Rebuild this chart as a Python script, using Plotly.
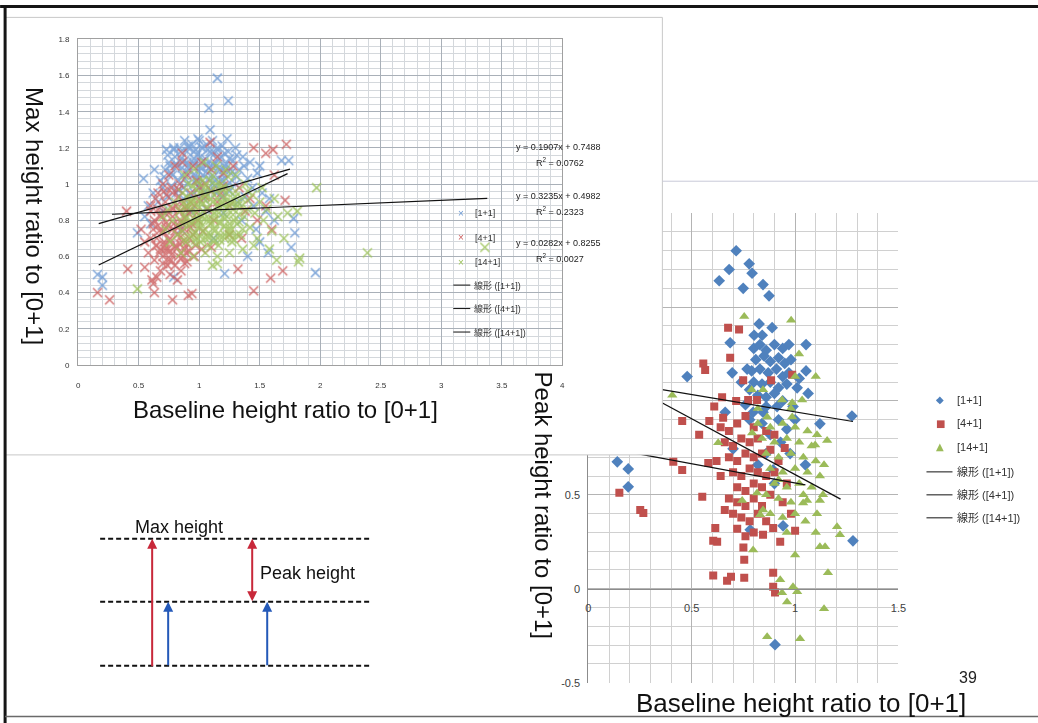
import plotly.graph_objects as go

W, H = 1038, 723

# ---------------- Left chart data (Max height ratio vs Baseline height ratio) ----------------
l1_x = [1.15, 1.24, 1.08, 1.09, 0.54, 1.68, 1.74, 1.0, 1.23, 0.49, 1.78, 1.79, 1.76, 0.16, 0.20, 0.20, 0.79, 1.21, 1.96, 1.57,
        0.68, 0.72, 0.75, 0.78, 0.8, 0.82, 0.84, 0.86, 0.88, 0.9, 0.92, 0.94, 0.95, 0.97, 0.98, 1.0, 1.02, 1.03, 1.05, 1.06,
        1.08, 1.1, 1.12, 1.13, 1.15, 1.17, 1.18, 1.2, 1.22, 1.24, 1.26, 1.28, 1.3, 1.33, 1.36, 1.4, 1.44, 1.48, 1.52, 1.58,
        0.62, 0.66, 0.7, 0.74, 0.77, 0.83, 0.87, 0.9, 0.96, 1.0, 1.04, 1.09, 1.14, 1.19, 1.25, 1.32, 1.38, 1.45, 1.55, 1.62,
        0.58, 0.63, 0.88, 0.99, 1.11, 1.3, 1.42, 1.5, 0.55, 0.6, 0.7, 0.93, 1.06, 1.2, 1.35, 1.47, 1.5, 1.4, 1.12, 0.85,
        0.74, 0.79, 0.85, 0.91, 0.96, 1.01, 1.07, 1.13, 1.19, 1.25, 1.31, 1.37, 0.71, 0.77, 0.83, 0.89, 0.95, 1.01, 1.07,
        1.13, 1.19, 1.25, 1.31, 0.81, 0.87, 0.93, 0.99, 1.05, 1.11, 1.17, 1.23, 0.9, 1.0, 1.1, 1.2, 0.96, 1.06, 1.16,
        0.76, 0.81, 0.86, 0.91, 0.96, 1.01, 1.06, 1.11, 1.16, 1.21, 1.26, 0.73, 0.79, 0.85, 0.91, 0.97, 1.03, 1.09, 1.15,
        1.21, 0.88, 0.98, 1.08, 1.18]
l1_y = [1.585, 1.46, 1.42, 1.30, 1.03, 1.13, 1.13, 1.24, 1.25, 0.73, 0.81, 0.73, 0.65, 0.50, 0.485, 0.44, 0.485, 0.505, 0.51, 0.62,
        1.02, 1.08, 1.12, 1.05, 1.15, 1.1, 1.2, 1.05, 1.13, 1.18, 1.08, 1.22, 1.12, 1.02, 1.16, 1.1, 1.2, 1.05, 1.14, 1.22,
        1.09, 1.17, 1.04, 1.12, 1.2, 1.08, 1.15, 1.02, 1.11, 1.18, 1.06, 1.13, 1.0, 1.08, 1.15, 1.03, 0.98, 1.06, 0.95, 0.92,
        0.95, 0.9, 0.98, 0.93, 0.99, 0.97, 0.92, 1.0, 0.95, 0.98, 0.92, 0.97, 0.95, 0.93, 0.96, 0.9, 0.93, 0.88, 0.85, 0.8,
        0.88, 1.08, 1.24, 1.25, 1.24, 1.2, 1.12, 1.1, 0.82, 0.78, 0.85, 0.85, 0.86, 0.84, 0.8, 0.75, 0.68, 0.6, 0.7, 0.75,
        1.16, 1.19, 1.14, 1.21, 1.18, 1.15, 1.19, 1.17, 1.21, 1.14, 1.16, 1.1, 1.04, 1.06, 1.02, 1.07, 1.05, 1.03, 1.06,
        1.02, 1.05, 1.01, 1.04, 0.95, 0.98, 0.94, 0.99, 0.96, 1.0, 0.97, 0.99, 1.12, 1.07, 1.1, 1.08, 1.14, 1.11, 1.13,
        1.1, 1.11, 1.09, 1.1, 1.11, 1.09, 1.1, 1.11, 1.09, 1.1, 1.08, 1.19, 1.2, 1.18, 1.2, 1.19, 1.2, 1.18, 1.19,
        1.17, 1.03, 1.04, 1.03, 1.02]

l2_x = [1.72, 0.86, 1.55, 1.61, 0.40, 1.71, 0.16, 0.26, 0.41, 0.55, 0.61, 0.62, 0.65, 0.63, 0.78, 0.91, 0.94, 0.76, 0.82, 0.85,
        1.32, 1.45, 1.59, 1.69, 1.09, 1.45, 1.62,
        0.58, 0.6, 0.62, 0.63, 0.65, 0.67, 0.68, 0.7, 0.71, 0.72, 0.73, 0.74, 0.75, 0.76, 0.77, 0.78, 0.79, 0.8, 0.81, 0.82,
        0.83, 0.84, 0.85, 0.86, 0.87, 0.88, 0.89, 0.9, 0.91, 0.92, 0.93, 0.94, 0.95, 0.96, 0.97, 0.98, 0.99, 1.0, 1.02, 1.03,
        1.05, 1.07, 1.1, 1.12, 1.15, 1.18, 1.2, 1.25, 1.28, 1.33, 1.38, 1.42, 1.48, 1.55, 1.6, 0.66, 0.7, 0.75, 0.8, 0.86,
        0.74, 0.68, 0.88, 0.96, 1.02, 0.55, 0.52, 0.6, 1.25, 1.1, 1.35,
        0.64, 0.69, 0.73, 0.78, 0.83, 0.88, 0.93, 0.63, 0.68, 0.73, 0.78, 0.83, 0.88, 0.93, 0.98, 0.65, 0.7, 0.75, 0.8,
        0.85, 0.9, 0.95, 0.67, 0.72, 0.77, 0.82, 0.87, 0.92, 0.7, 0.75, 0.8, 0.85, 0.9, 1.0, 1.05, 1.1, 1.15, 1.2,
        0.62, 0.66, 0.7, 0.74, 0.78, 0.82, 0.86, 0.64, 0.68, 0.72, 0.76, 0.8, 0.84, 0.88, 0.6, 0.66, 0.72, 0.78, 0.84,
        0.9, 0.71, 0.77, 0.83]
l2_y = [1.22, 1.17, 1.17, 1.19, 0.85, 0.91, 0.40, 0.36, 0.53, 0.54, 0.47, 0.45, 0.485, 0.40, 0.36, 0.385, 0.395, 0.5, 0.47, 0.52,
        0.53, 0.41, 0.48, 0.52, 1.23, 1.2, 1.05,
        0.62, 0.7, 0.78, 0.58, 0.66, 0.74, 0.82, 0.6, 0.68, 0.9, 0.76, 0.64, 0.84, 0.7, 0.58, 0.95, 0.78, 0.66, 0.88, 0.72,
        0.6, 1.0, 0.8, 0.68, 0.9, 0.75, 0.62, 1.05, 0.84, 0.7, 0.95, 0.78, 1.1, 0.88, 0.66, 1.02, 0.8, 0.92, 1.12, 0.74,
        1.0, 0.86, 1.08, 0.8, 1.15, 0.95, 1.06, 0.88, 1.1, 0.98, 0.85, 0.92, 0.8, 0.88, 0.75, 0.95, 1.0, 1.05, 1.1, 1.12,
        0.55, 0.52, 0.56, 0.6, 0.64, 0.68, 0.75, 0.88, 0.72, 0.65, 0.7,
        0.92, 0.88, 0.94, 0.86, 0.93, 0.87, 0.9, 0.8, 0.83, 0.79, 0.82, 0.77, 0.81, 0.76, 0.84, 0.7, 0.73, 0.69, 0.74,
        0.71, 0.67, 0.72, 0.62, 0.64, 0.61, 0.65, 0.6, 0.63, 0.56, 0.58, 0.55, 0.59, 0.57, 0.98, 0.93, 0.96, 0.9, 0.99,
        0.75, 0.77, 0.74, 0.77, 0.75, 0.76, 0.78, 0.66, 0.64, 0.66, 0.63, 0.65, 0.67, 0.64, 0.85, 0.86, 0.84, 0.87, 0.85,
        0.86, 0.96, 0.98, 0.97]

l3_x = [1.81, 1.97, 1.64, 1.82, 1.15, 1.11, 0.49, 1.83, 2.39, 3.36, 1.73,
        0.78, 0.8, 0.82, 0.84, 0.86, 0.87, 0.89, 0.9, 0.91, 0.93, 0.94, 0.95, 0.97, 0.98, 0.99, 1.0, 1.01, 1.02, 1.03, 1.04,
        1.05, 1.06, 1.07, 1.08, 1.09, 1.1, 1.11, 1.12, 1.13, 1.14, 1.15, 1.16, 1.17, 1.18, 1.19, 1.2, 1.21, 1.22, 1.23, 1.24,
        1.25, 1.26, 1.27, 1.28, 1.3, 1.31, 1.32, 1.34, 1.35, 1.37, 1.38, 1.4, 1.42, 1.44, 1.46, 1.48, 1.5, 1.53, 1.56, 1.6,
        1.65, 0.72, 0.74, 0.76, 0.7, 0.88, 0.96, 1.04, 1.14, 1.22, 1.3, 0.85, 0.95, 1.05, 1.15, 1.25, 1.36, 1.45, 1.0, 1.1,
        1.2, 0.92, 1.06, 1.16, 1.28, 0.98, 1.12, 1.24, 1.4, 1.52, 1.58, 1.7, 1.62,
        0.86, 0.91, 0.96, 1.01, 1.06, 1.11, 1.16, 1.21, 1.26, 1.31, 1.36, 0.88, 0.93, 0.98, 1.03, 1.08, 1.13, 1.18, 1.23,
        1.28, 1.33, 0.9, 0.95, 1.0, 1.05, 1.1, 1.15, 1.2, 1.25, 1.3, 1.35, 1.4, 0.94, 0.99, 1.04, 1.09, 1.14, 1.19, 1.24,
        0.97, 1.07, 1.17, 1.27,
        0.85, 0.89, 0.93, 0.97, 1.01, 1.05, 1.09, 1.13, 1.17, 1.21, 1.25, 1.29, 1.33, 0.87, 0.91, 0.95, 0.99, 1.03, 1.07,
        1.11, 1.15, 1.19, 1.23, 1.27, 1.31, 0.89, 0.93, 0.97, 1.01, 1.05, 1.09, 1.13, 1.17, 1.21, 1.25, 1.29]
l3_y = [0.85, 0.98, 0.58, 0.57, 0.56, 0.55, 0.42, 0.59, 0.62, 0.65, 0.84,
        0.8, 0.9, 0.72, 0.85, 0.95, 0.78, 0.68, 0.88, 1.0, 0.8, 0.92, 0.72, 0.85, 0.97, 0.76, 0.9, 0.68, 0.82, 1.02, 0.94,
        0.75, 0.87, 0.98, 0.7, 0.8, 0.92, 1.05, 0.84, 0.74, 0.96, 0.88, 0.66, 0.78, 1.0, 0.9, 0.82, 0.72, 0.95, 0.86, 1.04,
        0.76, 0.9, 0.68, 0.83, 0.96, 0.78, 0.88, 0.72, 0.92, 0.82, 1.0, 0.86, 0.76, 0.94, 0.84, 0.7, 0.9, 0.8, 0.86, 0.74,
        0.82, 0.75, 0.86, 0.68, 0.82, 1.05, 1.08, 1.12, 1.1, 1.08, 1.05, 0.62, 0.6, 0.62, 0.6, 0.62, 0.64, 0.66, 0.8, 0.78,
        0.92, 0.9, 0.94, 0.84, 0.92, 0.7, 0.68, 0.74, 0.96, 0.98, 0.64, 0.7, 0.92,
        0.74, 0.77, 0.73, 0.76, 0.72, 0.75, 0.73, 0.77, 0.74, 0.72, 0.75, 0.83, 0.86, 0.82, 0.85, 0.81, 0.84, 0.87, 0.82,
        0.86, 0.83, 0.93, 0.9, 0.95, 0.91, 0.96, 0.92, 0.97, 0.9, 0.93, 0.88, 0.91, 0.99, 1.01, 0.98, 1.02, 1.0, 0.98, 0.97,
        0.67, 0.66, 0.69, 0.7,
        0.79, 0.81, 0.78, 0.8, 0.79, 0.81, 0.78, 0.8, 0.79, 0.81, 0.78, 0.8, 0.79, 0.89, 0.87, 0.9, 0.88, 0.89, 0.87,
        0.9, 0.88, 0.89, 0.87, 0.9, 0.88, 0.70, 0.71, 0.69, 0.71, 0.70, 0.72, 0.69, 0.71, 0.70, 0.72, 0.69]

# Left chart linear trend lines (from the equations printed on the chart)
lt_slope = [0.1907, 0.3235, 0.0282]
lt_icpt = [0.7488, 0.4982, 0.8255]
lt_r2 = ["0.0762", "0.2323", "0.0027"]
lt_xmin = [0.17, 0.17, 0.28]
lt_xmax = [1.75, 1.73, 3.38]

# ---------------- Right chart data (Peak height ratio vs Baseline height ratio) ----------------
r1_x = [0.715, 0.778, 0.681, 0.792, 0.633, 0.749, 0.845, 0.874, 0.826, 0.889, 0.802, 0.841, 0.686, 1.053, 0.696, 0.768,
        0.478, 1.053, 1.01, 1.063, 1.275, 1.28, 0.14, 0.193, 0.193, 0.70, 0.662, 0.797, 0.845, 0.913, 0.99, 0.976, 0.894,
        0.942, 0.783, 0.903, 1.12,
        0.80, 0.83, 0.86, 0.90, 0.94, 0.97, 0.81, 0.85, 0.88, 0.92, 0.95, 0.98, 0.79, 0.83, 0.87, 0.91, 0.94, 0.97, 0.80,
        0.84, 0.88, 0.92, 0.96, 0.82, 0.86, 0.90, 0.94, 0.78, 0.74, 0.86, 0.92, 0.96, 0.88, 0.84, 0.78, 1.02, 1.0, 0.93,
        0.86, 0.82, 0.9, 1.05, 0.76]
r1_y = [1.80, 1.73, 1.70, 1.68, 1.64, 1.60, 1.62, 1.56, 1.41, 1.39, 1.35, 1.35, 1.31, 1.30, 1.15, 1.17,
        1.13, 1.16, 1.07, 1.04, 0.92, 0.255, 0.676, 0.638, 0.543, 0.745, 0.94, 0.94, 0.94, 0.97, 0.97, 0.72, 0.633,
        0.335, 0.314, -0.298, 0.878,
        1.28, 1.30, 1.27, 1.30, 1.28, 1.30, 1.22, 1.24, 1.21, 1.23, 1.20, 1.22, 1.16, 1.17, 1.15, 1.17, 1.13, 1.15, 1.10,
        1.09, 1.10, 1.07, 1.09, 1.03, 1.02, 1.04, 1.00, 1.06, 1.10, 0.97, 0.90, 0.85, 0.82, 0.88, 0.90, 1.12, 0.90, 0.78,
        0.72, 0.66, 0.56, 0.66, 0.98]

r2_x = [0.676, 0.729, 0.686, 0.556, 0.565, 0.749, 0.884, 0.986, 0.647, 0.609, 0.715, 0.773, 0.816, 0.454, 0.585, 0.652,
        0.536, 0.411, 0.454, 0.58, 0.15, 0.251, 0.266, 0.551, 0.614, 0.604, 0.623, 0.754, 0.604, 0.671, 0.69, 0.754,
        0.894, 0.894, 0.903, 0.845, 0.928, 1.0, 0.894,
        0.64, 0.68, 0.72, 0.76, 0.80, 0.66, 0.70, 0.74, 0.78, 0.82, 0.86, 0.68, 0.72, 0.76, 0.80, 0.84, 0.88, 0.92, 0.70,
        0.74, 0.78, 0.82, 0.86, 0.90, 0.72, 0.76, 0.80, 0.84, 0.88, 0.68, 0.72, 0.76, 0.80, 0.84, 0.70, 0.74, 0.78, 0.82,
        0.86, 0.72, 0.76, 0.80, 0.75, 0.94, 0.96, 0.98, 0.66, 0.64, 0.62, 0.9, 0.95]
r2_y = [1.39, 1.38, 1.23, 1.20, 1.165, 1.11, 1.11, 1.14, 1.02, 0.97, 1.00, 1.005, 1.005, 0.893, 0.893, 0.91,
        0.82, 0.676, 0.633, 0.67, 0.511, 0.42, 0.404, 0.49, 0.324, 0.255, 0.25, 0.154, 0.07, 0.043, 0.064, 0.059,
        0.085, 0.01, -0.02, 0.287, 0.25, 0.309, 0.324,
        0.86, 0.84, 0.88, 0.92, 0.86, 0.78, 0.76, 0.80, 0.78, 0.80, 0.84, 0.70, 0.68, 0.72, 0.70, 0.72, 0.74, 0.68, 0.62,
        0.60, 0.64, 0.62, 0.60, 0.62, 0.54, 0.52, 0.56, 0.54, 0.50, 0.48, 0.46, 0.44, 0.48, 0.44, 0.40, 0.38, 0.36, 0.40,
        0.36, 0.32, 0.28, 0.30, 0.22, 0.46, 0.56, 0.40, 0.42, 0.60, 0.68, 0.82, 0.75]

r3_x = [0.754, 0.981, 1.019, 1.10, 1.00, 0.406, 0.79, 0.845, 0.937, 0.986, 1.034, 0.865, 0.986, 0.628, 0.792, 1.155,
        1.106, 1.097, 1.203, 1.217, 1.12, 1.145, 1.0, 1.159, 0.797, 0.928, 0.937, 0.99, 1.01, 0.961, 1.14, 0.865, 1.024,
        1.106, 1.12, 1.135, 1.058, 1.039, 0.744, 0.816, 0.845, 0.831,
        0.82, 0.88, 0.94, 1.00, 1.06, 0.84, 0.90, 0.96, 1.02, 1.08, 0.86, 0.92, 0.98, 1.04, 1.10, 0.88, 0.94, 1.00, 1.06,
        1.12, 0.90, 0.96, 1.02, 1.08, 0.92, 0.98, 1.04, 0.88, 0.94, 1.00, 0.96, 1.05, 1.1, 0.86, 0.92, 1.14, 0.98, 0.82]
r3_y = [1.45, 1.43, 1.25, 1.13, 1.13, 1.03, 1.06, 1.06, 1.005, 0.99, 1.005, 0.915, 0.915, 0.777, 0.83, 0.79,
        0.82, 0.766, 0.33, 0.287, 0.223, 0.223, 0.18, 0.085, 0.207, 0.048, -0.021, 0.01, -0.016, -0.07, -0.106, -0.255,
        -0.266, 0.40, 0.47, 0.50, 0.47, 0.457, 0.47, 0.51, 0.42, 0.394,
        0.88, 0.86, 0.88, 0.86, 0.84, 0.80, 0.78, 0.80, 0.78, 0.76, 0.72, 0.70, 0.72, 0.70, 0.68, 0.64, 0.62, 0.64, 0.62,
        0.60, 0.56, 0.54, 0.56, 0.54, 0.48, 0.46, 0.50, 0.40, 0.38, 0.40, 0.30, 0.36, 0.30, 0.50, 0.58, 0.66, 0.96, 0.96]

# Right chart linear trend lines (estimated from the drawn lines)
rt_slope = [-0.184, -0.205, -0.594]
rt_icpt = [1.126, 0.768, 1.202]
rt_xmin = [0.14, 0.15, 0.30]
rt_xmax = [1.28, 1.05, 1.22]

# Right chart tick labels
r_yticks = [-0.5, 0, 0.5, 1, 1.5, 2]
r_yticktext = ["-0.5", "0", "0.5", "1", "1.5", "2"]

series_names = ["[1+1]", "[4+1]", "[14+1]"]
trend_names = ["線形 ([1+1])", "線形 ([4+1])", "線形 ([14+1])"]

# ---------------- styles ----------------
BLUE, RED, GREEN = "#4f81bd", "#c0504d", "#9bbb59"
LBLUE, LRED, LGREEN = "#6d9ad4", "#cd6060", "#9dc35b"
NARROW = "Liberation Sans Narrow, Liberation Sans, Noto Sans CJK JP, sans-serif"
ARIAL = "Liberation Sans, Arial, sans-serif"

# page-placement compensation (the photographed page comes out slightly shrunk and offset)
SX, OX, SY, OY = 0.989, 2.9, 0.9845, 5.6


def PX(x):
    return ((x - OX) / SX) / W


def PY(y):
    return 1 - ((y - OY) / SY) / H


def dom_x(p0, p1):
    return [PX(p0), PX(p1)]


def dom_y(top, bottom):
    return [PY(bottom), PY(top)]


fig = go.Figure()

# ---- right chart (xy) ----
for xs, ys, c, sym, sz, nm in [(r1_x, r1_y, BLUE, "diamond", 9, series_names[0]),
                               (r2_x, r2_y, RED, "square", 8, series_names[1]),
                               (r3_x, r3_y, GREEN, "triangle-up", 9, series_names[2])]:
    fig.add_trace(go.Scatter(x=xs, y=ys, mode="markers", name=nm, xaxis="x", yaxis="y",
                             marker=dict(symbol=sym, size=sz, color=c, line=dict(width=0))))
for s, b, a, z in zip(rt_slope, rt_icpt, rt_xmin, rt_xmax):
    fig.add_trace(go.Scatter(x=[a, z], y=[s * a + b, s * z + b], mode="lines", xaxis="x", yaxis="y",
                             line=dict(color="#111111", width=1.2), showlegend=False))

# ---- panel (x2y2): white sheet of the left chart lying on top ----
fig.add_trace(go.Scatter(x=[None], y=[None], xaxis="x2", yaxis="y2", showlegend=False, hoverinfo="skip"))

# ---- left chart (x3y3) ----
for xs, ys, c, nm in [(l1_x, l1_y, LBLUE, series_names[0]),
                      (l2_x, l2_y, LRED, series_names[1]),
                      (l3_x, l3_y, LGREEN, series_names[2])]:
    fig.add_trace(go.Scatter(x=xs, y=ys, mode="markers", name=nm, xaxis="x3", yaxis="y3", opacity=0.85,
                             marker=dict(symbol="x-thin", size=9, color=c, line=dict(width=1.5, color=c))))
for s, b, a, z in zip(lt_slope, lt_icpt, lt_xmin, lt_xmax):
    fig.add_trace(go.Scatter(x=[a, z], y=[s * a + b, s * z + b], mode="lines", xaxis="x3", yaxis="y3",
                             line=dict(color="#111111", width=1.2), showlegend=False))

# axes
ry_dom = dom_y(213, 683)
ry_range = [-0.5, 2]
x_pos = ry_dom[0] + (0 - ry_range[0]) / (ry_range[1] - ry_range[0]) * (ry_dom[1] - ry_dom[0])

clear = "rgba(0,0,0,0)"
fig.update_layout(
    xaxis=dict(domain=dom_x(588, 898), range=[0, 1.5], tick0=0, dtick=0.5, anchor="free", position=x_pos,
               showgrid=True, gridcolor="#b4b4b4", gridwidth=1,
               minor=dict(tick0=0, dtick=0.1, showgrid=True, gridcolor="#d0d0d0", gridwidth=1),
               zeroline=False, showline=True, linecolor="#8c8c8c", linewidth=1,
               ticks="outside", ticklen=9, tickcolor=clear,
               tickfont=dict(family=NARROW, size=11, color="#404040"), fixedrange=True),
    yaxis=dict(domain=ry_dom, range=ry_range, tickmode="array", tickvals=r_yticks, ticktext=r_yticktext,
               anchor="x", showgrid=True, gridcolor="#b4b4b4", gridwidth=1,
               minor=dict(tickmode="linear", tick0=0, dtick=0.1, showgrid=True, gridcolor="#d0d0d0", gridwidth=1),
               zeroline=False, showline=True, linecolor="#8c8c8c", linewidth=1,
               ticks="outside", ticklen=5, tickcolor=clear,
               tickfont=dict(family=NARROW, size=11, color="#404040"), fixedrange=True),
    xaxis2=dict(domain=dom_x(6, 662), range=[0, 1], anchor="y2", showgrid=False, zeroline=False,
                showticklabels=False, showline=False, fixedrange=True),
    yaxis2=dict(domain=dom_y(8, 455), range=[0, 1], anchor="x2", showgrid=False, zeroline=False,
                showticklabels=False, showline=False, fixedrange=True),
    xaxis3=dict(domain=dom_x(78, 562), range=[0, 4], tick0=0, dtick=0.5, anchor="y3",
                showgrid=True, gridcolor="#a9b0b8", gridwidth=1,
                minor=dict(tick0=0, dtick=0.1, showgrid=True, gridcolor="#d4d8dc", gridwidth=1),
                zeroline=False, showline=True, mirror=True, linecolor="#a0a0a0", linewidth=1,
                ticks="outside", ticklen=12, tickcolor=clear,
                tickfont=dict(family=NARROW, size=8, color="#333333"), fixedrange=True),
    yaxis3=dict(domain=dom_y(39, 365), range=[0, 1.8], tick0=0, dtick=0.2, anchor="x3",
                showgrid=True, gridcolor="#a9b0b8", gridwidth=1,
                minor=dict(tick0=0, dtick=0.04, showgrid=True, gridcolor="#d4d8dc", gridwidth=1),
                zeroline=False, showline=True, mirror=True, linecolor="#a0a0a0", linewidth=1,
                ticks="outside", ticklen=6, tickcolor=clear,
                tickfont=dict(family=NARROW, size=8, color="#333333"), fixedrange=True),
)

# ---------------- annotations ----------------
ann = []


def text(x, y, t, size, color="#222222", family=ARIAL, xanchor="center", angle=0):
    ann.append(dict(x=PX(x), y=PY(y), xref="paper", yref="paper", text=t, showarrow=False,
                    xanchor=xanchor, yanchor="middle", textangle=angle,
                    font=dict(family=family, size=size, color=color)))


# axis titles
text(35, 216, "Max height ratio to [0+1]", 24, "#111111", angle=90)
text(285, 410, "Baseline height ratio to [0+1]", 24, "#111111")
text(543, 506, "Peak height ratio to [0+1]", 24, "#111111", angle=90)
text(801, 703, "Baseline height ratio to [0+1]", 26, "#111111")
text(968, 678, "39", 16, "#222222")

# left chart trend equations
eq_y = [147, 196, 243]
for s, b, r2, yy in zip(lt_slope, lt_icpt, lt_r2, eq_y):
    text(558, yy, f"y = {s:.4f}x + {b:.4f}", 9, "#222222", NARROW)
    text(560, yy + 15, f"R<sup>2</sup> = {r2}", 9, "#222222", NARROW)

# left legend
shapes = []


def seg(x0, y0, x1, y1, color, width, dash=None):
    line = dict(color=color, width=width)
    if dash:
        line["dash"] = dash
    shapes.append(dict(type="line", xref="paper", yref="paper", x0=PX(x0), x1=PX(x1),
                       y0=PY(y0), y1=PY(y1), line=line))


for i, (nm, c) in enumerate(zip(series_names, [LBLUE, LRED, LGREEN])):
    yy = 213 + 24.5 * i
    text(461, yy, "×", 10, c, ARIAL)
    text(473, yy, nm, 9, "#333333", NARROW, xanchor="left")
for i, nm in enumerate(trend_names):
    yy = 285 + 23.5 * i
    seg(453, yy, 470, yy, "#111111", 1)
    text(472, yy, nm, 9, "#333333", NARROW, xanchor="left")

# right legend
for i, (nm, c, g) in enumerate(zip(series_names, [BLUE, RED, GREEN], ["◆", "■", "▲"])):
    yy = 400 + 23.5 * i
    text(940, yy, g, 10, c, "DejaVu Sans")
    text(955, yy, nm, 11, "#333333", NARROW, xanchor="left")
for i, nm in enumerate(trend_names):
    yy = 472 + 23 * i
    seg(926, yy, 952, yy, "#111111", 1)
    text(955, yy, nm, 11, "#333333", NARROW, xanchor="left")

# diagram
for yy in [539, 602, 666]:
    seg(100, yy, 371, yy, "#111111", 2, "5px,3px")
D_RED, D_BLUE = "#c8283a", "#2459b8"
for x, ytail, yhead, c, both in [(152, 666, 539, D_RED, False), (168, 666, 602, D_BLUE, False),
                                 (252, 602, 539, D_RED, True), (267, 666, 602, D_BLUE, False)]:
    ann.append(dict(x=PX(x), y=PY(yhead), xref="paper", yref="paper", ax=0, ay=(ytail - yhead) / SY,
                    axref="pixel", ayref="pixel", text="", showarrow=True, arrowhead=2, arrowsize=1,
                    arrowwidth=2, arrowcolor=c, arrowside="end+start" if both else "end",
                    standoff=0, startstandoff=0))
text(133, 527, "Max height", 18, "#111111", xanchor="left")
text(258, 573, "Peak height", 18, "#111111", xanchor="left")

# slide / sheet borders
seg(5, 17, 662, 17, "#c8c8c8", 1)
seg(662, 17, 662, 455, "#c8c8c8", 1)
seg(5, 455, 662, 455, "#c8c8c8", 1)
seg(662, 181, 1045, 181, "#c8cad8", 1)
seg(0, 6, 1045, 6, "#151515", 3)
seg(5, 6, 5, 730, "#151515", 3)
seg(5, 717, 1045, 717, "#6a6a6a", 1.5)

fig.update_layout(width=W, height=H, margin=dict(l=0, r=0, t=0, b=0), showlegend=False,
                  paper_bgcolor="white", plot_bgcolor="white", annotations=ann, shapes=shapes)

fig.write_html("out.html")
